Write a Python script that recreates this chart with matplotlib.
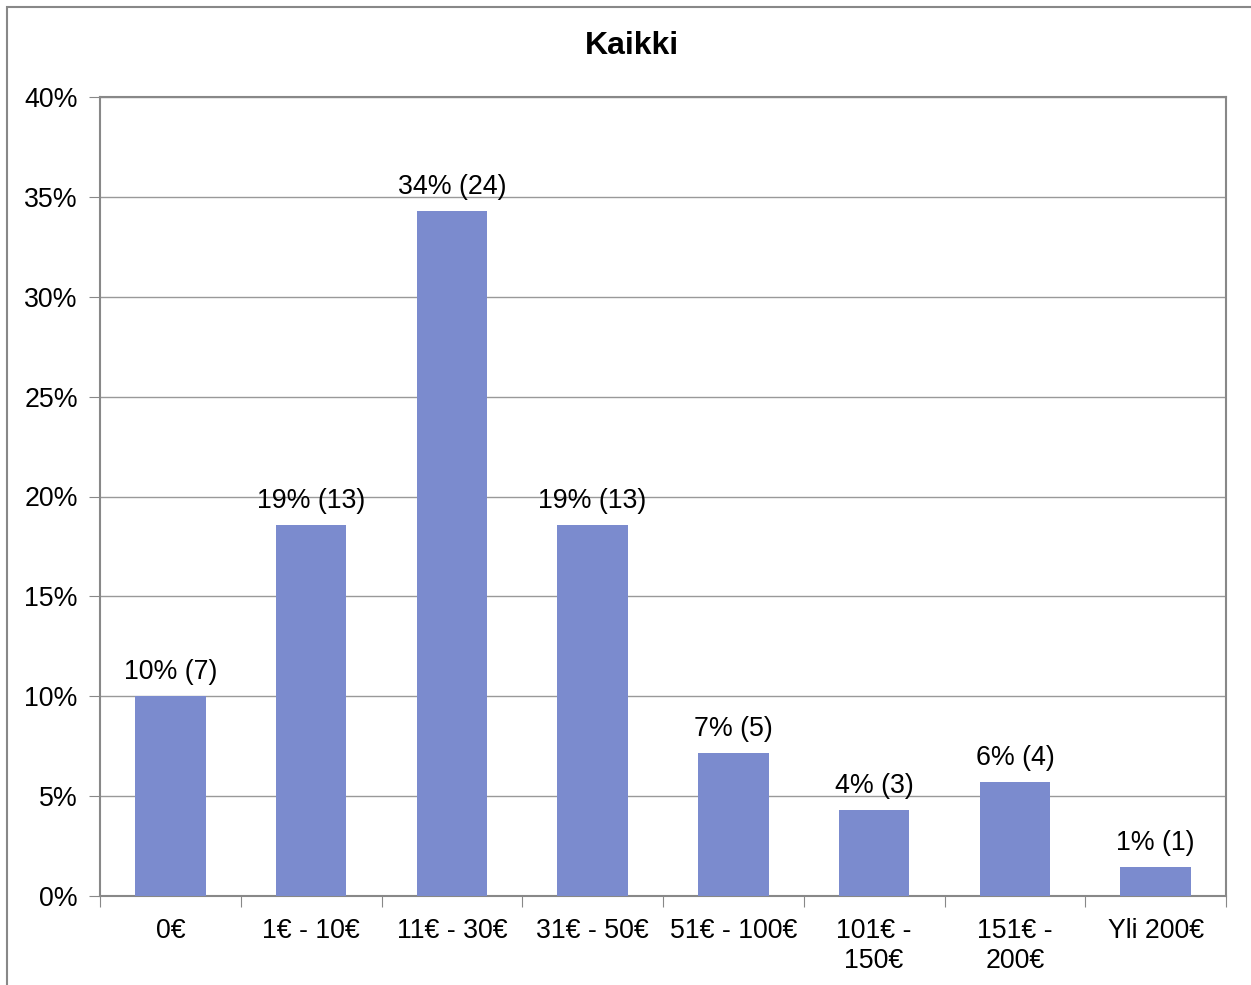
import matplotlib.pyplot as plt
from matplotlib.patches import Rectangle
from matplotlib.ticker import FuncFormatter

plt.rcParams['font.family'] = ['Liberation Sans', 'DejaVu Sans']

categories = ["0€", "1€ - 10€", "11€ - 30€", "31€ - 50€", "51€ - 100€",
              "101€ -\n150€", "151€ -\n200€", "Yli 200€"]
counts = [7, 13, 24, 13, 5, 3, 4, 1]
total = sum(counts)
shares = [c / total * 100 for c in counts]

fig = plt.figure(figsize=(12.51, 9.85), dpi=100)
ax = fig.add_axes([100 / 1251, 1 - 896 / 985, 1126 / 1251, 799 / 985])

# outer chart frame
fig.patches.append(Rectangle((7 / 1251, -0.01), 1.1, 1 - 7 / 985 + 0.01,
                             transform=fig.transFigure, fill=False,
                             edgecolor='#888888', linewidth=1.5))

x = range(len(categories))
ax.bar(x, shares, width=0.5, color='#7B8BCE', zorder=3)
for i, (s, c) in enumerate(zip(shares, counts)):
    ax.text(i, s + 0.55, f"{round(s)}% ({c})", ha='center', va='bottom', fontsize=19.3)

ax.set_xlim(-0.5, len(categories) - 0.5)
ax.set_ylim(0, 40)
ax.set_yticks(range(0, 41, 5))
ax.yaxis.set_major_formatter(FuncFormatter(lambda v, p: f"{v:.0f}%"))
ax.grid(axis='y', color='#999999', linewidth=1, zorder=0)

ax.set_xticks([i + 0.5 for i in range(-1, len(categories))])
ax.set_xticklabels([])
ax.set_xticks(list(x), minor=True)
ax.set_xticklabels(categories, minor=True, fontsize=19.3, linespacing=1.2)
ax.tick_params(axis='x', which='minor', length=0, pad=16)
ax.tick_params(axis='x', which='major', length=8, color='#888888', direction='out')
ax.tick_params(axis='y', length=8, color='#888888', labelsize=19.3, pad=8)
for sp in ax.spines.values():
    sp.set_color('#888888')
    sp.set_linewidth(1.5)

fig.text(632 / 1251, 1 - 46 / 985, "Kaikki", ha='center', va='center',
         fontsize=23, fontweight='bold')

fig.savefig("out.png", dpi=100)
